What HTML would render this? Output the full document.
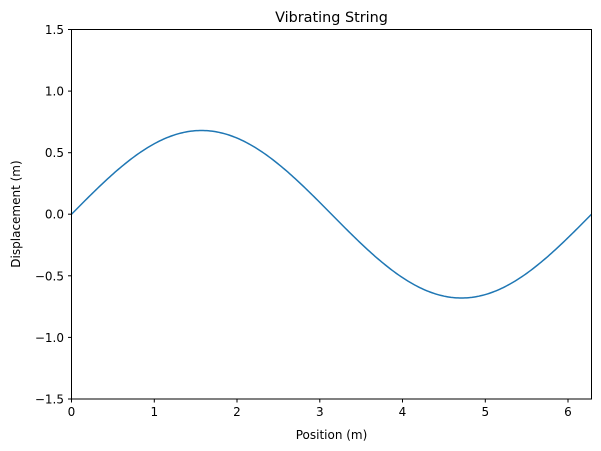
<!DOCTYPE html>
<html><head><meta charset="utf-8"><style>
html,body{margin:0;padding:0;background:#fff;}
svg{display:block;font-family:"DejaVu Sans","Liberation Sans",sans-serif;}
</style></head><body>
<svg id="s" width="601" height="451" viewBox="0 0 601 451" xmlns="http://www.w3.org/2000/svg">
<rect width="601" height="451" fill="#fff"/>
<polyline id="c" fill="none" stroke="#1f77b4" stroke-width="1.5" points=""/>
<rect x="71.5" y="29.5" width="520" height="369.5" fill="none" stroke="#000" stroke-width="1"/>
<g stroke="#000" stroke-width="1">
<line x1="71.5" y1="399" x2="71.5" y2="402.5"/>
<line x1="154.3" y1="399" x2="154.3" y2="402.5"/>
<line x1="237" y1="399" x2="237" y2="402.5"/>
<line x1="319.8" y1="399" x2="319.8" y2="402.5"/>
<line x1="402.5" y1="399" x2="402.5" y2="402.5"/>
<line x1="485.3" y1="399" x2="485.3" y2="402.5"/>
<line x1="568" y1="399" x2="568" y2="402.5"/>
<line x1="68" y1="29.5" x2="71.5" y2="29.5"/>
<line x1="68" y1="91.1" x2="71.5" y2="91.1"/>
<line x1="68" y1="152.7" x2="71.5" y2="152.7"/>
<line x1="68" y1="214.2" x2="71.5" y2="214.2"/>
<line x1="68" y1="275.8" x2="71.5" y2="275.8"/>
<line x1="68" y1="337.4" x2="71.5" y2="337.4"/>
<line x1="68" y1="399" x2="71.5" y2="399"/>
</g>
<g font-size="12" fill="#000" text-anchor="middle">
<text x="71.5" y="416">0</text><text x="154.3" y="416">1</text><text x="237" y="416">2</text>
<text x="319.8" y="416">3</text><text x="402.5" y="416">4</text><text x="485.3" y="416">5</text><text x="568" y="416">6</text>
</g>
<g font-size="12" fill="#000" text-anchor="end">
<text x="64" y="34">1.5</text><text x="64" y="95.6">1.0</text><text x="64" y="157.2">0.5</text>
<text x="64" y="218.7">0.0</text><text x="64" y="280.3">−0.5</text><text x="64" y="341.9">−1.0</text><text x="64" y="403.5">−1.5</text>
</g>
<text x="331.5" y="439" font-size="12" text-anchor="middle">Position (m)</text>
<text transform="translate(20,214) rotate(-90)" font-size="12" text-anchor="middle">Displacement (m)</text>
<text x="331.5" y="22" font-size="14.4" text-anchor="middle">Vibrating String</text>
</svg>
<script>
var p=[];for(var i=0;i<=300;i++){var x=i/300*2*Math.PI;var y=0.68*Math.sin(x);p.push((71.5+x*520/(2*Math.PI)).toFixed(2)+","+(214.25-y*123.17).toFixed(2));}
document.getElementById("c").setAttribute("points",p.join(" "));
</script>
</body></html>
